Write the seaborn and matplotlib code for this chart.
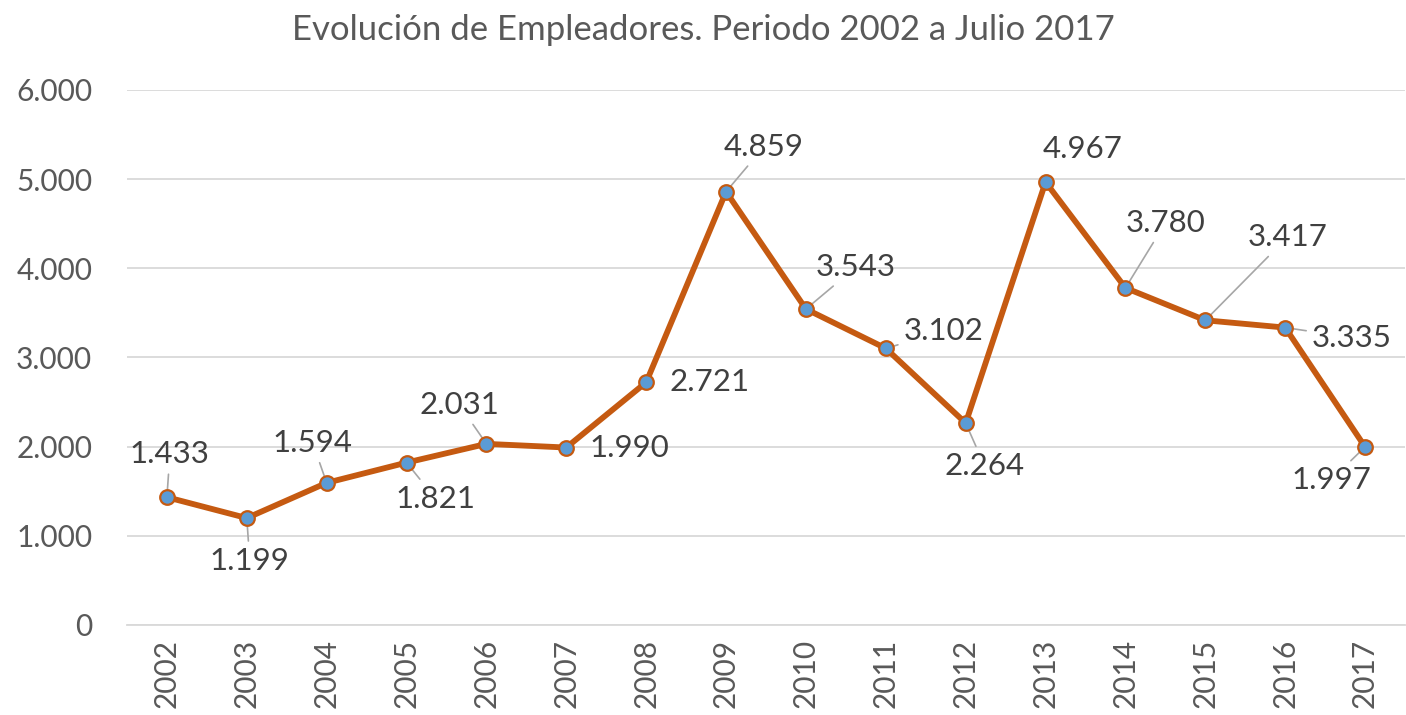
import matplotlib.pyplot as plt
import matplotlib.ticker as mticker
import pandas as pd
import seaborn as sns

years = ['2002', '2003', '2004', '2005', '2006', '2007', '2008', '2009',
         '2010', '2011', '2012', '2013', '2014', '2015', '2016', '2017']
empleadores = [1433, 1199, 1594, 1821, 2031, 1990, 2721, 4859,
               3543, 3102, 2264, 4967, 3780, 3417, 3335, 1997]

# label offsets in pixels (dx, dy) and whether a leader line is drawn
offsets = [(3, 43), (3, -43), (-14, 40), (29, -36), (-27, 39), (63, 0), (63, 0), (38, 45),
           (50, 42), (58, 17), (19, -43), (37, 33), (40, 65), (82, 83), (67, -10), (-34, -33)]
leaders = [True, True, True, True, True, False, False, True,
           True, True, True, False, True, True, True, True]

df = pd.DataFrame({'Año': years, 'Empleadores': empleadores})

sns.set_style('white')
plt.rcParams['font.family'] = ['Lato', 'DejaVu Sans']

fig = plt.figure(figsize=(14.06, 7.15), dpi=100)
ax = fig.add_axes([0.0903, 0.1259, 0.909, 0.7483])

sns.lineplot(data=df, x='Año', y='Empleadores', ax=ax, color='#C55A11', linewidth=4.2,
             marker='o', markersize=10.5, markerfacecolor='#5B9BD5',
             markeredgecolor='#C55A11', markeredgewidth=1.6, zorder=3)

for i, v in enumerate(empleadores):
    dx, dy = offsets[i]
    label = f'{v:,}'.replace(',', '.')
    arrow = dict(arrowstyle='-', color='#A6A6A6', lw=1.2, shrinkA=2, shrinkB=0) if leaders[i] else None
    ax.annotate(label, xy=(i, v), xytext=(dx * 0.72, dy * 0.72), textcoords='offset points',
                ha='center', va='center', fontsize=22.5, color='#404040',
                arrowprops=arrow, zorder=2)

ax.set_xlim(-0.5, 15.5)
ax.set_ylim(0, 6000)
ax.yaxis.set_major_locator(mticker.MultipleLocator(1000))
ax.yaxis.set_major_formatter(mticker.FuncFormatter(lambda v, p: f'{int(v):,}'.replace(',', '.')))
ax.grid(axis='y', color='#D9D9D9', linewidth=1.3)
ax.set_axisbelow(True)
for s in ['top', 'right', 'left']:
    ax.spines[s].set_visible(False)
ax.spines['bottom'].set_color('#D9D9D9')
ax.spines['bottom'].set_linewidth(1.3)
ax.tick_params(axis='x', rotation=90, labelsize=21.5, colors='#595959', length=0, pad=10)
ax.tick_params(axis='y', labelsize=21.5, colors='#595959', length=0, pad=25)
ax.set_xlabel('')
ax.set_ylabel('')
fig.suptitle('Evolución de Empleadores. Periodo 2002 a Julio 2017', fontsize=25,
             color='#595959', x=0.5, y=1 - 30 / 715, va='center')

fig.savefig('out.png', dpi=100)
